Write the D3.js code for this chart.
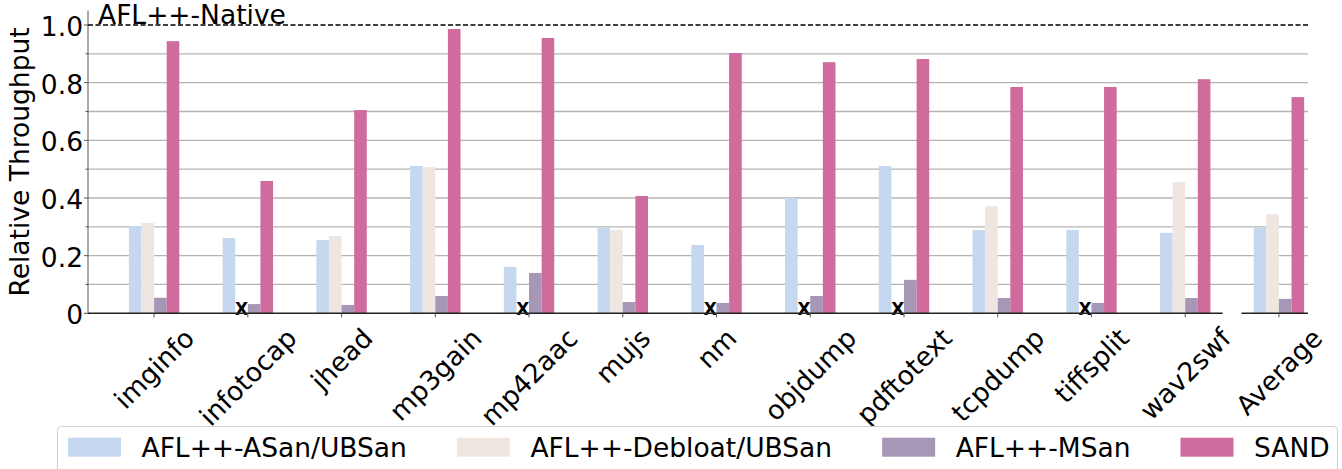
<!DOCTYPE html>
<meta charset="utf-8">
<style>
    body { margin: 0; background: #fff; }
    text {
        font-family: "DejaVu Sans", sans-serif;
        fill: #000;
    }
</style>

<svg width="1342" height="469"></svg>

<script src="https://d3js.org/d3.v7.min.js"></script>

<script>
    // values (relative to AFL++-Native)
    var categories = ["imginfo", "infotocap", "jhead", "mp3gain", "mp42aac", "mujs", "nm",
        "objdump", "pdftotext", "tcpdump", "tiffsplit", "wav2swf", "Average"];
    var asan    = [0.303, 0.261, 0.254, 0.511, 0.161, 0.296, 0.237, 0.400, 0.511, 0.289, 0.289, 0.279, 0.296];
    // null = not available (drawn as an X)
    var debloat = [0.313, null, 0.268, 0.507, null, 0.289, null, null, null, 0.372, null, 0.455, 0.344];
    var msan    = [0.054, 0.032, 0.029, 0.060, 0.140, 0.039, 0.036, 0.060, 0.116, 0.053, 0.036, 0.053, 0.050];
    var sand    = [0.944, 0.459, 0.705, 0.986, 0.955, 0.407, 0.903, 0.871, 0.882, 0.785, 0.785, 0.812, 0.750];

    var seriesNames = ["AFL++-ASan/UBSan", "AFL++-Debloat/UBSan", "AFL++-MSan", "SAND"];
    var seriesValues = [asan, debloat, msan, sand];
    var colors = ["#c5d8f0", "#efe6e1", "#a697b7", "#cf6b9d"];
    var yTicks = [0, 0.2, 0.4, 0.6, 0.8, 1.0];

    var svg = d3.select("svg"),
        fs = 26.5;

    var x = d3.scaleLinear().domain([-0.705, 12.31]).range([88, 1308]);
    var y = d3.scaleLinear().domain([0, 1.05]).range([313.3, 10.6]);
    var bw = 0.1345;   // bar width in category units

    // grid lines every 0.1
    svg.append("g").selectAll("line")
        .data(d3.range(1, 10).map(function (i) { return i / 10; }))
        .enter().append("line")
        .attr("x1", x.range()[0]).attr("x2", x.range()[1])
        .attr("y1", function (d) { return y(d); })
        .attr("y2", function (d) { return y(d); })
        .attr("stroke", "#b4b4b4")
        .attr("stroke-width", 1.3);

    // bars
    seriesValues.forEach(function (vals, k) {
        svg.append("g").selectAll("rect")
            .data(vals.map(function (v, i) { return {i: i, v: v}; })
                .filter(function (d) { return d.v !== null; }))
            .enter().append("rect")
            .attr("x", function (d) { return x(d.i + (k - 2) * bw); })
            .attr("width", x(bw) - x(0))
            .attr("y", function (d) { return y(d.v); })
            .attr("height", function (d) { return y(0) - y(d.v); })
            .attr("fill", colors[k]);
    });

    // X marks for missing debloat values
    svg.append("g").selectAll("text")
        .data(debloat.map(function (v, i) { return {i: i, v: v}; })
            .filter(function (d) { return d.v === null; }))
        .enter().append("text")
        .attr("x", function (d) { return x(d.i - 0.5 * bw); })
        .attr("y", y(0) + 2)
        .attr("text-anchor", "middle")
        .attr("font-weight", "bold")
        .attr("font-size", 17)
        .text("X");

    // left spine + y ticks
    svg.append("line")
        .attr("x1", x.range()[0]).attr("x2", x.range()[0])
        .attr("y1", y.range()[0]).attr("y2", y.range()[1])
        .attr("stroke", "#555").attr("stroke-width", 1);

    svg.append("g").selectAll("line")
        .data(d3.range(0, 11).map(function (i) { return i / 10; }))
        .enter().append("line")
        .attr("x1", function (d, i) { return x.range()[0] - (i % 2 ? 2.5 : 4); })
        .attr("x2", x.range()[0])
        .attr("y1", function (d) { return y(d); })
        .attr("y2", function (d) { return y(d); })
        .attr("stroke", "#555").attr("stroke-width", 1);

    svg.append("g").selectAll("text")
        .data(yTicks)
        .enter().append("text")
        .attr("x", 83)
        .attr("y", function (d) { return y(d) + 1.5; })
        .attr("text-anchor", "end")
        .attr("dominant-baseline", "central")
        .attr("font-size", fs)
        .text(function (d) { return d === 0 ? "0" : d.toFixed(1); });

    svg.append("text")
        .attr("transform", "translate(29," + ((y.range()[0] + y.range()[1]) / 2) + ") rotate(-90)")
        .attr("text-anchor", "middle")
        .attr("font-size", fs)
        .text("Relative Throughput");

    // baseline (broken before the Average group)
    var baseSegs = [[x.domain()[0], 11.4], [11.6, x.domain()[1]]];
    svg.append("g").selectAll("line")
        .data(baseSegs)
        .enter().append("line")
        .attr("x1", function (d) { return x(d[0]); })
        .attr("x2", function (d) { return x(d[1]); })
        .attr("y1", y(0)).attr("y2", y(0))
        .attr("stroke", "#222").attr("stroke-width", 1.5);

    // x ticks
    svg.append("g").selectAll("line")
        .data(categories)
        .enter().append("line")
        .attr("x1", function (d, i) { return x(i); })
        .attr("x2", function (d, i) { return x(i); })
        .attr("y1", y(0)).attr("y2", y(0) + 4)
        .attr("stroke", "#555").attr("stroke-width", 1);

    // rotated x labels, bounding box centred under the tick
    var lh = fs * 1.164;
    svg.append("g").selectAll("text")
        .data(categories)
        .enter().append("text")
        .attr("font-size", fs)
        .attr("text-anchor", "middle")
        .attr("dominant-baseline", "central")
        .text(function (d) { return d; })
        .each(function (d, i) {
            var w = this.getComputedTextLength();
            var h = (w + lh) * Math.SQRT1_2;
            d3.select(this).attr("transform",
                "translate(" + x(i) + "," + (y(0) + 9 + h / 2) + ") rotate(-45)");
        });

    // reference line at 1.0
    svg.append("line")
        .attr("x1", x.range()[0]).attr("x2", x.range()[1])
        .attr("y1", y(1)).attr("y2", y(1))
        .attr("stroke", "#000").attr("stroke-width", 1.4)
        .attr("stroke-dasharray", "5,2.5");

    svg.append("text")
        .attr("x", 98)
        .attr("y", y(1) - 1)
        .attr("font-size", fs)
        .text("AFL++-Native");

    // legend
    var legend = svg.append("g"),
        lfs = 26.5;
    legend.append("rect")
        .attr("x", 57.5).attr("y", 426.5)
        .attr("width", 1280).attr("height", 60)
        .attr("rx", 4)
        .attr("fill", "#fff")
        .attr("stroke", "#d0d0d0").attr("stroke-width", 1);

    var lx = 68;
    seriesNames.forEach(function (name, k) {
        legend.append("rect")
            .attr("x", lx).attr("y", 437.7)
            .attr("width", 53).attr("height", 19)
            .attr("fill", colors[k]);
        var t = legend.append("text")
            .attr("x", lx + 73.5)
            .attr("y", 456.5)
            .attr("font-size", lfs)
            .text(name);
        lx += 73.5 + t.node().getComputedTextLength() + 50;
    });
</script>
